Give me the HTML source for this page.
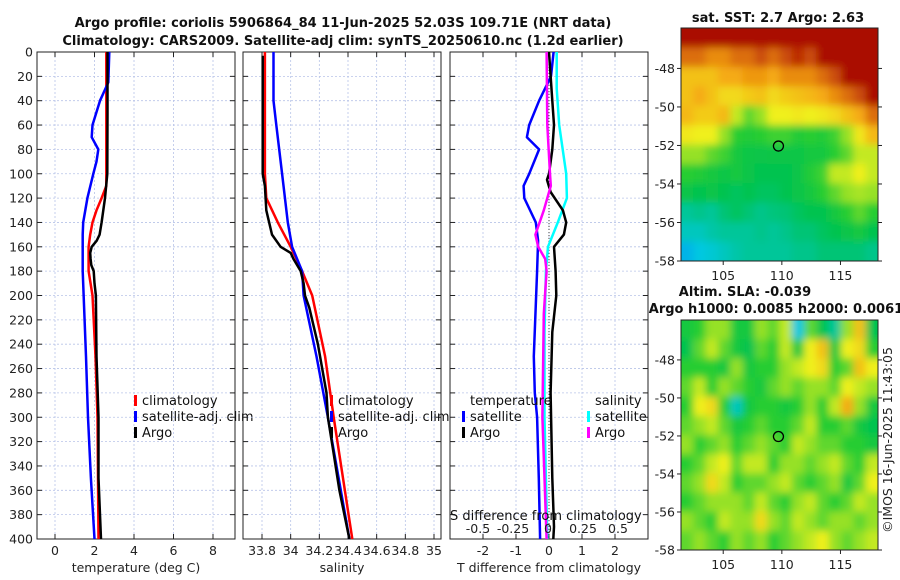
<!DOCTYPE html>
<html><head><meta charset="utf-8"><style>
body{margin:0;background:#fff;}
svg{display:block;font-family:"DejaVu Sans","Liberation Sans",sans-serif;}
.tk{font-size:12.5px;fill:#222;}
.ttl{font-size:13px;font-weight:bold;fill:#111;}
.lg{font-size:13px;fill:#111;}
</style></head><body>
<svg id="chart" width="900" height="580" viewBox="0 0 900 580">
<defs>
<filter id="blur" x="-5%" y="-5%" width="110%" height="110%"><feGaussianBlur stdDeviation="4"/></filter>
<clipPath id="clipTop"><rect x="681" y="28" width="197" height="233"/></clipPath>
<clipPath id="clipBot"><rect x="681" y="320" width="197" height="230"/></clipPath>
</defs>
<text class="ttl" x="343" y="27" text-anchor="middle">Argo profile: coriolis 5906864_84 11-Jun-2025 52.03S 109.71E (NRT data)</text>
<text class="ttl" x="343" y="45" text-anchor="middle">Climatology: CARS2009. Satellite-adj clim: synTS_20250610.nc (1.2d earlier)</text>
<text class="ttl" x="778" y="22" text-anchor="middle">sat. SST: 2.7 Argo: 2.63</text>
<text class="ttl" x="745" y="296" text-anchor="middle">Altim. SLA: -0.039</text>
<text class="ttl" x="776" y="313" text-anchor="middle">Argo h1000: 0.0085 h2000: 0.0061</text>
<text class="tk" transform="translate(892,440) rotate(-90)" text-anchor="middle">©IMOS 16-Jun-2025 11:43:05</text>
<g id="g"></g>
</svg>
<script>
// ---------- data ----------
const depthTicks=[0,20,40,60,80,100,120,140,160,180,200,220,240,260,280,300,320,340,360,380,400];
const tTicks=[0,2,4,6,8];
const sTicks=[33.8,34,34.2,34.4,34.6,34.8,35];
const dTicks=[-2,-1,0,1,2];
const sdTicks=[-0.5,-0.25,0,0.25,0.5];
const sdTickLabels=["-0.5","-0.25","0","0.25","0.5"];
const argoTDepth=[0,50,100,120,140,150,155,160,165,170,175,180,190,200,250,300,350,400];
const argoT=[2.66,2.66,2.65,2.53,2.36,2.26,2.11,1.86,1.78,1.8,1.84,1.96,2.0,2.07,2.1,2.2,2.2,2.33];
const climTDepth=[0,100,110,120,130,140,150,160,180,200,250,300,400];
const climT=[2.6,2.6,2.6,2.36,2.1,1.9,1.78,1.7,1.7,1.9,2.05,2.15,2.2];
const satTDepth=[0,25,40,60,70,80,90,100,120,140,150,180,250,300,350,400];
const satT=[2.75,2.7,2.28,1.9,1.86,2.19,2.1,1.94,1.64,1.43,1.4,1.4,1.57,1.67,1.82,2.0];
const argoSDepth=[3,100,110,130,150,160,165,170,180,190,200,210,240,280,300,330,360,400];
const argoS=[33.805,33.805,33.82,33.83,33.87,33.93,34.0,34.02,34.07,34.09,34.1,34.13,34.19,34.25,34.26,34.3,34.34,34.41];
const climSDepth=[0,100,120,125,140,160,180,200,250,300,400];
const climS=[33.82,33.82,33.83,33.85,33.91,34.0,34.08,34.15,34.24,34.3,34.43];
const satSDepth=[0,40,60,100,140,160,180,200,250,300,400];
const satS=[33.88,33.88,33.9,33.94,33.98,34.01,34.08,34.09,34.18,34.26,34.41];
const dTsatDepth=[0,20,40,60,70,80,100,110,120,140,155,180,250,280,300,350,400];
const dTsat=[0.14,0.06,-0.3,-0.6,-0.67,-0.3,-0.6,-0.77,-0.75,-0.4,-0.33,-0.36,-0.46,-0.43,-0.36,-0.31,-0.27];
const dTargoDepth=[0,40,60,80,100,105,115,130,140,150,160,180,200,230,280,350,390,400];
const dTargo=[0,0.1,0.15,0.1,0,-0.06,0.05,0.42,0.52,0.45,0.15,0.2,0.22,0.1,0.05,0.1,0.15,0.13];
const dSsatDepth=[0,30,60,100,120,140,160,180,230,300,400];
const dSsat=[0.062,0.062,0.08,0.13,0.135,0.07,0,-0.015,-0.025,-0.025,-0.005];
const dSargoDepth=[0,60,100,110,130,150,160,170,180,215,300,400];
const dSargo=[-0.01,-0.005,0.014,0.02,-0.03,-0.09,-0.07,-0.02,-0.01,-0.03,-0.04,-0.01];
const lonTicks=[105,110,115];
const latTicks=[-48,-50,-52,-54,-56,-58];
const floatLon=109.71, floatLat=-52.03;
const sstGrid=[
[1,1,1,1,1,1,1,1,1,1,1,1,1,1,1,1],
[0.85,0.85,0.8,0.8,0.85,0.85,0.9,0.85,0.9,0.95,0.9,1,1,1,1,1],
[0.7,0.7,0.7,0.75,0.75,0.78,0.78,0.75,0.8,0.8,0.8,0.85,0.9,1,1,1],
[0.7,0.75,0.7,0.65,0.65,0.68,0.7,0.65,0.68,0.7,0.72,0.75,0.8,0.85,0.9,1],
[0.72,0.68,0.68,0.72,0.55,0.45,0.5,0.6,0.6,0.62,0.6,0.62,0.65,0.7,0.75,0.85],
[0.62,0.6,0.6,0.5,0.4,0.38,0.4,0.42,0.42,0.38,0.4,0.38,0.42,0.5,0.62,0.72],
[0.5,0.5,0.45,0.42,0.35,0.33,0.32,0.33,0.33,0.33,0.35,0.35,0.4,0.45,0.55,0.55],
[0.4,0.38,0.35,0.33,0.35,0.32,0.3,0.3,0.3,0.32,0.38,0.42,0.55,0.55,0.6,0.55],
[0.32,0.3,0.32,0.3,0.28,0.3,0.28,0.28,0.3,0.32,0.35,0.4,0.45,0.5,0.52,0.5],
[0.2,0.22,0.2,0.25,0.28,0.25,0.22,0.24,0.25,0.28,0.3,0.3,0.35,0.4,0.45,0.4],
[0.15,0.15,0.18,0.2,0.2,0.2,0.22,0.2,0.22,0.25,0.25,0.28,0.3,0.32,0.35,0.3],
[0.08,0.1,0.12,0.15,0.18,0.2,0.2,0.2,0.2,0.22,0.22,0.25,0.25,0.25,0.25,0.22]];
const slaGrid=[
[0.35,0.4,0.5,0.5,0.35,0.35,0.5,0.45,0.55,0.1,0.45,0.3,0.2,0.5,0.7,0.3],
[0.3,0.45,0.55,0.45,0.35,0.3,0.45,0.4,0.55,0.35,0.6,0.7,0.35,0.6,0.65,0.4],
[0.4,0.4,0.4,0.35,0.5,0.35,0.4,0.4,0.5,0.55,0.6,0.65,0.4,0.45,0.7,0.6],
[0.45,0.55,0.4,0.5,0.45,0.4,0.35,0.45,0.5,0.45,0.5,0.5,0.45,0.6,0.55,0.5],
[0.4,0.6,0.65,0.4,0.15,0.35,0.4,0.4,0.35,0.4,0.5,0.4,0.55,0.75,0.5,0.35],
[0.45,0.5,0.55,0.45,0.35,0.4,0.45,0.4,0.4,0.45,0.55,0.4,0.4,0.45,0.35,0.3],
[0.5,0.4,0.45,0.5,0.4,0.45,0.5,0.45,0.4,0.55,0.5,0.45,0.45,0.4,0.4,0.35],
[0.4,0.45,0.55,0.6,0.45,0.55,0.55,0.4,0.5,0.5,0.45,0.5,0.55,0.45,0.4,0.55],
[0.45,0.5,0.65,0.55,0.4,0.45,0.45,0.5,0.55,0.45,0.4,0.45,0.5,0.35,0.45,0.6],
[0.4,0.45,0.5,0.5,0.5,0.45,0.55,0.45,0.4,0.5,0.55,0.45,0.4,0.45,0.55,0.5],
[0.5,0.45,0.4,0.55,0.5,0.5,0.65,0.5,0.45,0.55,0.5,0.45,0.5,0.5,0.45,0.5],
[0.45,0.5,0.45,0.4,0.5,0.45,0.5,0.4,0.45,0.5,0.55,0.6,0.5,0.45,0.5,0.55]];

// ---------- drawing ----------
const NS="http://www.w3.org/2000/svg";
const root=document.getElementById('g');
function mk(tag,attrs,parent){const e=document.createElementNS(NS,tag);for(const k in attrs)e.setAttribute(k,attrs[k]);(parent||root).appendChild(e);return e;}
const Y0=52,Y1=539;
const yD=d=>Y0+(d/400)*(Y1-Y0);
function lin(d0,d1,r0,r1){return v=>r0+(v-d0)/(d1-d0)*(r1-r0);}
const P1={x0:37,x1:235}, P2={x0:243,x1:441}, P3={x0:450,x1:648};
const xT=lin(0,8,55,213);
const xS=lin(33.8,35,262,434);
const xDT=lin(-3,3,P3.x0,P3.x1);
const xDS=lin(0,0.5,548,618);

function panel(P,name,xf,ticks,labels,showY){
  const g=mk('g',{});
  
  
  depthTicks.forEach(d=>{
    const l=mk('line',{x1:P.x0,x2:P.x1,y1:yD(d),y2:yD(d),stroke:'#b8c4e8','stroke-width':0.8,'stroke-dasharray':'2,2'},g);
    
    
    mk('line',{x1:P.x0,x2:P.x0+5,y1:yD(d),y2:yD(d),stroke:'#222'},g);
    mk('line',{x1:P.x1-5,x2:P.x1,y1:yD(d),y2:yD(d),stroke:'#222'},g);
    if(showY){const t=mk('text',{x:P.x0-4,y:yD(d)+4.5,'text-anchor':'end',class:'tk'},g);t.textContent=d;
      
      }
  });
  ticks.forEach((v,i)=>{
    const x=xf(v);
    const l=mk('line',{x1:x,x2:x,y1:Y0,y2:Y1,stroke:'#b8c4e8','stroke-width':0.8,'stroke-dasharray':'2,2'},g);
    
    
    mk('line',{x1:x,x2:x,y1:Y1,y2:Y1-5,stroke:'#222'},g);
    mk('line',{x1:x,x2:x,y1:Y0,y2:Y0+5,stroke:'#222'},g);
    const t=mk('text',{x:x,y:Y1+16,'text-anchor':'middle',class:'tk'},g);t.textContent=labels[i];
    
    
  });
  const r=mk('rect',{x:P.x0,y:Y0,width:P.x1-P.x0,height:Y1-Y0,fill:'none',stroke:'#222','stroke-width':1},g);
  
  
  return g;
}
function line(g,name,depths,vals,xf,color,w){
  const pts=depths.map((d,i)=>xf(vals[i]).toFixed(1)+','+yD(d).toFixed(1)).join(' ');
  const p=mk('polyline',{points:pts,fill:'none',stroke:color,'stroke-width':w||2.5,'stroke-linejoin':'round'},g);
  
  
}
function txt(g,name,x,y,s,cls,anchor){const t=mk('text',{x:x,y:y,class:cls||'lg','text-anchor':anchor||'start'},g);t.textContent=s;
  
  
  return t;}
function legend(g,x,y,items){
  items.forEach((it,i)=>{
    const yy=y+i*16;
    const m=mk('rect',{x:x,y:yy-10,width:3,height:11,fill:it[1]},g);
    
    
    txt(g,'legend-entry',x+8,yy,it[0]);
  });
}

const g1=panel(P1,'temperature-panel',xT,tTicks,tTicks.map(String),true);
line(g1,'climatology-temp-line',climTDepth,climT,xT,'#f00');
line(g1,'satellite-temp-line',satTDepth,satT,xT,'#00f');
line(g1,'argo-temp-line',argoTDepth,argoT,xT,'#000');
legend(g1,134,405,[['climatology','#f00'],['satellite-adj. clim','#00f'],['Argo','#000']]);
txt(g1,'temperature-axis-title',136,572,'temperature (deg C)','tk','middle');

const g2=panel(P2,'salinity-panel',xS,sTicks,sTicks.map(v=>String(v)),false);
line(g2,'climatology-salinity-line',climSDepth,climS,xS,'#f00');
line(g2,'satellite-salinity-line',satSDepth,satS,xS,'#00f');
line(g2,'argo-salinity-line',argoSDepth,argoS,xS,'#000');
legend(g2,330,405,[['climatology','#f00'],['satellite-adj. clim','#00f'],['Argo','#000']]);
txt(g2,'salinity-axis-title',342,572,'salinity','tk','middle');

const g3=panel(P3,'difference-panel',xDT,dTicks,dTicks.map(String),false);
const z=mk('line',{x1:xDT(0),x2:xDT(0),y1:Y0,y2:Y1,stroke:'#444','stroke-width':1,'stroke-dasharray':'1,2'},g3);


line(g3,'satellite-temp-diff-line',dTsatDepth,dTsat,xDT,'#00f');
line(g3,'satellite-salinity-diff-line',dSsatDepth,dSsat,xDS,'#0ff');
line(g3,'argo-temp-diff-line',dTargoDepth,dTargo,xDT,'#000');
line(g3,'argo-salinity-diff-line',dSargoDepth,dSargo,xDS,'#f0f');
txt(g3,'temperature-legend-header',470,405,'temperature');
legend(g3,462,421,[['satellite','#00f'],['Argo','#000']]);
txt(g3,'salinity-legend-header',595,405,'salinity');
legend(g3,587,421,[['satellite','#0ff'],['Argo','#f0f']]);
txt(g3,'s-diff-axis-title',450,520,'S difference from climatology','lg','start');
sdTicks.forEach((v,i)=>txt(g3,'s-diff-tick-label',xDS(v),533,sdTickLabels[i],'tk','middle'));
txt(g3,'t-diff-axis-title',549,572,'T difference from climatology','tk','middle');

function cmap(v){
  const st=[[0,[0,100,255]],[0.1,[0,200,225]],[0.3,[0,195,80]],[0.4,[40,205,50]],[0.5,[150,225,40]],[0.6,[240,240,30]],[0.75,[245,170,20]],[0.85,[220,110,10]],[1,[170,10,0]]];
  for(let i=1;i<st.length;i++){if(v<=st[i][0]){const a=st[i-1],b=st[i],f=(v-a[0])/(b[0]-a[0]);
    return 'rgb('+a[1].map((c,k)=>Math.round(c+(b[1][k]-c)*f)).join(',')+')';}}
  return 'rgb(170,10,0)';
}
function map(name,top,bottom,grid,clip){
  const g=mk('g',{});
  
  
  const X0=681,X1=878;
  const xL=lin(101.4,118.2,X0,X1), yL=lin(-45.9,-58,top,bottom);
  const rows=grid.length, cols=grid[0].length;
  const cw=(X1-X0)/cols, ch=(bottom-top)/rows;
  const outer=mk('g',{'clip-path':'url(#'+clip+')'},g);
  const cg=mk('g',{filter:'url(#blur)'},outer);
  // edge padding so blur doesn't fade at frame
  grid.forEach((row,r)=>row.forEach((v,c)=>{
    let x=X0+c*cw, y=top+r*ch, w=cw+0.6, h=ch+0.6;
    if(c===0){x-=10;w+=10;} if(c===cols-1){w+=10;}
    if(r===0){y-=10;h+=10;} if(r===rows-1){h+=10;}
    const cell=mk('rect',{x:x,y:y,width:w,height:h,fill:cmap(v)},cg);
    
    
  }));
  latTicks.forEach(v=>{const y=yL(v);mk('line',{x1:X0,x2:X0-4,y1:y,y2:y,stroke:'#222'},g);mk('line',{x1:X1,x2:X1+4,y1:y,y2:y,stroke:'#222'},g);
    txt(g,'lat-tick-label',X0-6,y+4.5,String(v),'tk','end');});
  lonTicks.forEach(v=>{const x=xL(v);mk('line',{x1:x,x2:x,y1:bottom,y2:bottom+4,stroke:'#222'},g);
    txt(g,'lon-tick-label',x,bottom+19,String(v),'tk','middle');});
  const fr=mk('rect',{x:X0,y:top,width:X1-X0,height:bottom-top,fill:'none',stroke:'#222'},g);
  
  
  const c=mk('circle',{cx:xL(floatLon),cy:yL(floatLat),r:5,fill:'none',stroke:'#000','stroke-width':1.3},g);
  
  
}
map('sst-map',28,261,sstGrid,'clipTop');
map('sla-map',320,550,slaGrid,'clipBot');
</script>
</body></html>
